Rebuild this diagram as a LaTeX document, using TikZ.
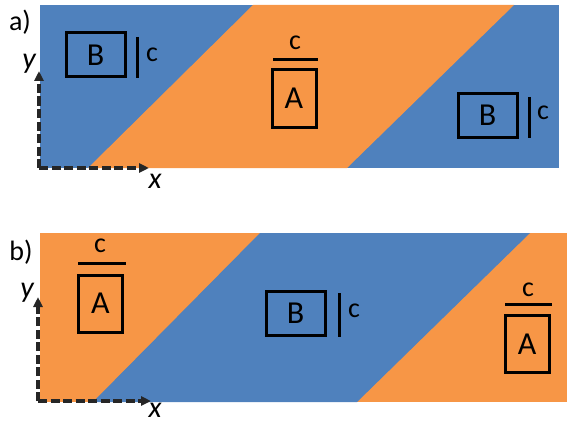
\documentclass[tikz,border=0pt]{standalone}
\usepackage{fontspec}
\setmainfont{Carlito}
\usetikzlibrary{arrows.meta}
\definecolor{oblue}{HTML}{4F81BD}
\definecolor{oorange}{HTML}{F79646}
\begin{document}
\begin{tikzpicture}[x=1pt,y=-1pt,
  boxB/.style={draw=black,line width=3pt,inner sep=0pt,minimum width=59pt,minimum height=44pt,
    font=\fontsize{32}{36}\selectfont},
  boxA/.style={draw=black,line width=3pt,inner sep=0pt,minimum width=44pt,minimum height=57pt,
    font=\fontsize{32}{36}\selectfont},
  bar/.style={draw=black,line width=3pt},
  clab/.style={inner sep=0pt,font=\fontsize{28}{30}\selectfont},
  axlab/.style={inner sep=0pt,font=\fontsize{30}{32}\selectfont\itshape},
  panlab/.style={inner sep=0pt,font=\fontsize{28}{30}\selectfont},
  axis/.style={draw=black!85,line width=3.3pt,dash pattern=on 9pt off 3.5pt,
    -{Triangle[length=10pt,width=9pt]}}]
\useasboundingbox (0,0) rectangle (569,425);
% panel a
\fill[oblue] (40,5) rectangle (559,168);
\fill[oorange] (88,168) -- (253,5) -- (514,5) -- (347,168) -- cycle;
% panel b
\fill[oorange] (40,233) rectangle (567,402);
\fill[oblue] (93,402) -- (260,233) -- (530,233) -- (357,402) -- cycle;
% labels
\node[panlab] (la) at (20,22) {a)};
\node[panlab] (lb) at (21,252) {b)};
% panel a boxes
\node[boxB] (aB1) at (95.5,55) {B};
\draw[bar] (137,37) -- (137,78);
\node[clab] (ac1) at (152,55) {c};
\node[boxA] (aA) at (294,98.5) {A};
\draw[bar] (273,60) -- (318,60);
\node[clab] (ac2) at (295,43) {c};
\node[boxB] (aB2) at (487.5,115.5) {B};
\draw[bar] (529,97) -- (529,138);
\node[clab] (ac3) at (543,113) {c};
% panel b boxes
\node[boxA] (bA1) at (100.5,303.5) {A};
\draw[bar] (78,263) -- (126,263);
\node[clab] (bc1) at (100,246) {c};
\node[boxB] (bB) at (295.5,313) {B};
\draw[bar] (339,293) -- (339,337);
\node[clab] (bc2) at (354,311) {c};
\node[boxA] (bA2) at (527,344) {A};
\draw[bar] (505,304) -- (552,304);
\node[clab] (bc3) at (528,290) {c};
% axes a
\coordinate (oa) at (39,168);
\coordinate (ya) at (39,71);
\coordinate (xa) at (149,168);
\draw[axis] (oa) -- (ya);
\draw[axis] (oa) -- (xa);
\node[axlab] (ylaba) at (29,64) {y};
\node[axlab] (xlaba) at (155,181) {x};
% axes b
\coordinate (ob) at (38,401);
\coordinate (yb) at (38,297);
\coordinate (xb) at (151,401);
\draw[axis] (ob) -- (yb);
\draw[axis] (ob) -- (xb);
\node[axlab] (ylabb) at (27,293) {y};
\node[axlab] (xlabb) at (155,410) {x};
\end{tikzpicture}
\end{document}
